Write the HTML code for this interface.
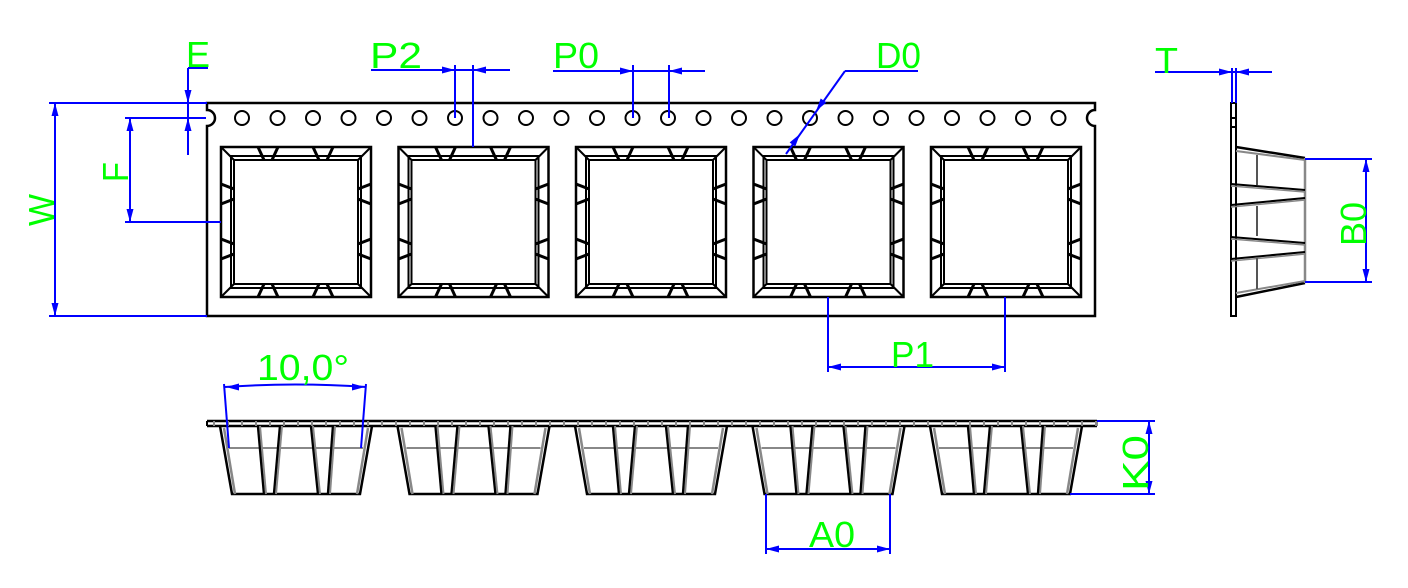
<!DOCTYPE html>
<html><head><meta charset="utf-8"><style>
html,body{margin:0;padding:0;background:#fff;}
svg{display:block}
text{font-family:"Liberation Sans",sans-serif;fill:#00ff00;font-size:36px;}
</style></head><body>
<svg id="s" width="1408" height="588" viewBox="0 0 1408 588" xmlns="http://www.w3.org/2000/svg">
<g id="g"></g>
<text x="186" y="67" textLength="24" lengthAdjust="spacingAndGlyphs">E</text>
<text x="370" y="68" textLength="52" lengthAdjust="spacingAndGlyphs">P2</text>
<text x="553" y="68" textLength="46" lengthAdjust="spacingAndGlyphs">P0</text>
<text x="876" y="68" textLength="45" lengthAdjust="spacingAndGlyphs">D0</text>
<text x="1155" y="73" textLength="23" lengthAdjust="spacingAndGlyphs">T</text>
<text x="891" y="367" textLength="43" lengthAdjust="spacingAndGlyphs">P1</text>
<text x="257" y="380" textLength="92" lengthAdjust="spacingAndGlyphs">10,0°</text>
<text x="809" y="547" textLength="46" lengthAdjust="spacingAndGlyphs">A0</text>
<text transform="translate(128,182) rotate(-90)" textLength="20" lengthAdjust="spacingAndGlyphs">F</text>
<text transform="translate(54,226) rotate(-90)" textLength="32" lengthAdjust="spacingAndGlyphs">W</text>
<text transform="translate(1366,246) rotate(-90)" textLength="44" lengthAdjust="spacingAndGlyphs">B0</text>
<text transform="translate(1148,491) rotate(-90)" textLength="56" lengthAdjust="spacingAndGlyphs">K0</text>
</svg>
<script>
var o='';
function L(x1,y1,x2,y2,c,w){o+='<line x1="'+x1+'" y1="'+y1+'" x2="'+x2+'" y2="'+y2+'" stroke="'+(c||'#000')+'" stroke-width="'+(w||2)+'"/>';}
function B(x1,y1,x2,y2){L(x1,y1,x2,y2,'#0000ff',2);}
function A(x,y,dx,dy){ // arrow tip at x,y pointing direction dx,dy
 var l=13,w=3.5,px=-dy,py=dx;var bx=x-dx*l,by=y-dy*l;
 o+='<polygon fill="#0000ff" points="'+x+','+y+' '+(bx+px*w)+','+(by+py*w)+' '+(bx-px*w)+','+(by-py*w)+'"/>';}
// top view tape
o+='<path d="M207,103 H1095 V110 A8,8 0 0 0 1095,126 V316 H207 V126 A8,8 0 0 0 207,110 Z" fill="none" stroke="#000" stroke-width="2.5"/>';
for(var i=0;i<24;i++){var cx=242+i*35.5;o+='<circle cx="'+cx+'" cy="118" r="7" fill="none" stroke="#000" stroke-width="2"/>';}
function pocket(x){var y=147,s=150;
 o+='<rect x="'+x+'" y="'+y+'" width="'+s+'" height="'+s+'" fill="none" stroke="#000" stroke-width="2.5"/>';
 o+='<rect x="'+(x+10)+'" y="'+(y+9)+'" width="'+(s-20)+'" height="'+(s-18)+'" fill="none" stroke="#000" stroke-width="2"/>';
 o+='<rect x="'+(x+13)+'" y="'+(y+13)+'" width="'+(s-26)+'" height="'+(s-26)+'" fill="none" stroke="#000" stroke-width="2"/>';
 L(x,y,x+13,y+13);L(x+s,y,x+s-13,y+13);L(x,y+s,x+13,y+s-13);L(x+s,y+s,x+s-13,y+s-13);
 [[37,57],[92,112]].forEach(function(t){
  L(x+t[0],y,x+t[0]+6,y+13,'#000',3);L(x+t[1],y,x+t[1]-6,y+13,'#000',3);
  L(x+t[0],y+s,x+t[0]+6,y+s-13,'#000',3);L(x+t[1],y+s,x+t[1]-6,y+s-13,'#000',3);
  L(x,y+t[0],x+13,y+t[0]+5,'#000',3);L(x,y+t[1],x+13,y+t[1]-5,'#000',3);
  L(x+s,y+t[0],x+s-13,y+t[0]+5,'#000',3);L(x+s,y+t[1],x+s-13,y+t[1]-5,'#000',3);
 });}
var px=[221,398.5,576,753.5,931];px.forEach(pocket);
// bottom view
L(207,421,1097,421,'#000',2.5);L(207,426,1097,426,'#000',2.5);L(207,421,207,426);L(1097,421,1097,426,'#888',2);
for(var x=214;x<1097;x+=14)L(x,421,x,426,'#888',2);
px.forEach(function(x){
 o+='<polyline points="'+(x-1)+',426 '+(x+11)+',494 '+(x+139)+',494 '+(x+151)+',426" fill="none" stroke="#000" stroke-width="2.5"/>';
 L(x+3,428,x+14,494,'#888',2.5);L(x+147,428,x+136,494,'#888',2.5);
 L(x+8,448,x+142,448,'#888',2);
 [[37,43],[59,53],[90,97],[112,107]].forEach(function(t){L(x+t[0],426,x+t[1],494,'#000',2.5);L(x+t[0]+2,426,x+t[1]+2,494,'#888',2);});
});
// side view
o+='<rect x="1231" y="103" width="5" height="213" fill="none" stroke="#000" stroke-width="2"/>';
L(1231,118,1236,118);L(1231,127,1236,127);
L(1236,147,1305,158,'#000',2.5);L(1236,151,1305,160,'#888',2);
L(1236,297,1305,283,'#000',2.5);L(1236,293,1305,281,'#888',2);
L(1305,158,1305,283,'#888',2.5);
[[184,190],[205,198],[237,243],[259,252]].forEach(function(t){L(1231,t[0],1305,t[1],'#000',2);L(1231,t[0]+2,1305,t[1]+2,'#888',1.5);});
L(1257,155,1257,185,'#555',2);L(1257,206,1257,236,'#555',2);L(1257,258,1257,289,'#555',2);
// dims: W
B(49,103,207,103);B(49,316,207,316);B(55,103,55,316);A(55,103,0,-1);A(55,316,0,1);
// F
B(125,118,206,118);B(125,222,221,222);B(130,118,130,222);A(130,118,0,-1);A(130,222,0,1);
// E
B(188,68,208,68);B(188,68,188,155);A(188,103,0,1);A(188,118,0,-1);
// P2
B(371,70,510,70);B(455,65,455,118);B(473,65,473,147);A(455,70,1,0);A(473,70,-1,0);
// P0
B(553,71,705,71);B(633,65,633,118);B(669,65,669,118);A(633,71,1,0);A(669,71,-1,0);
// D0
B(845,71,918,71);B(845,71,786,154);A(816,111,-0.58,0.81);A(800,134,0.58,-0.81);
// T
B(1155,72,1272,72);B(1232,68,1232,103);B(1236,68,1236,103);A(1232,72,1,0);A(1236,72,-1,0);
// B0
B(1305,159,1372,159);B(1305,282,1372,282);B(1366,159,1366,282);A(1366,159,0,-1);A(1366,282,0,1);
// P1
B(828,297,828,372);B(1005,297,1005,372);B(828,367,1005,367);A(828,367,-1,0);A(1005,367,1,0);
// angle 10
B(224,384,229,448);B(366,384,361,448);
o+='<path d="M225,387 Q295,382 366,387" fill="none" stroke="#0000ff" stroke-width="2"/>';A(226,387,-1,0);A(365,387,1,0);
// K0
B(1097,421,1155,421);B(1070,494,1155,494);B(1149,421,1149,494);A(1149,421,0,-1);A(1149,494,0,1);
// A0
B(766,494,766,554);B(890,494,890,554);B(766,549,890,549);A(766,549,-1,0);A(890,549,1,0);
document.getElementById('g').innerHTML=o;
</script>
</body></html>
